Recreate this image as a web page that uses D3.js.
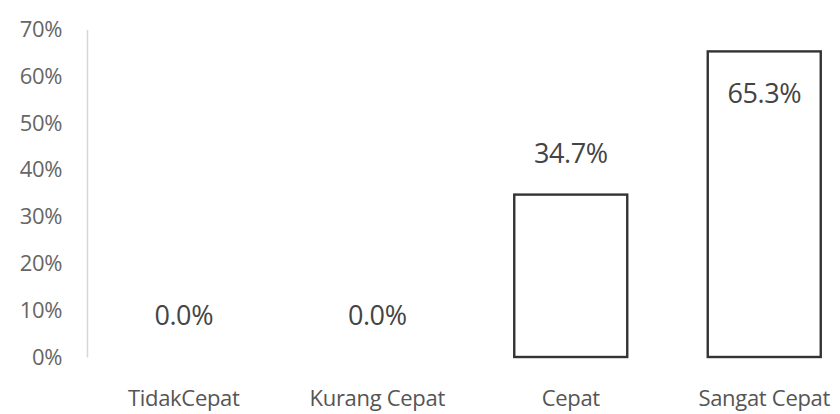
<!DOCTYPE html>
<html><head><meta charset="utf-8">
<script src="https://cdn.jsdelivr.net/npm/d3@7"></script>
<style>body{margin:0;background:#fff}svg{display:block}</style>
</head><body><svg id="c" width="840" height="414"></svg>
<script>
const categories = ["TidakCepat", "Kurang Cepat", "Cepat", "Sangat Cepat"];
const values = [0.0, 0.0, 34.7, 65.3];
const yTicks = [0, 10, 20, 30, 40, 50, 60, 70];

const svg = d3.select("#c");
const font = "'Open Sans', 'Noto Sans', sans-serif";
const x = d3.scaleBand().domain(categories).range([87, 861]).paddingInner(0.416).paddingOuter(0.208);
const y = d3.scaleLinear().domain([0, 70]).range([357, 29.4]);

// y axis
const ya = svg.append("g").attr("transform", "translate(87,0)")
  .call(d3.axisLeft(y).tickValues(yTicks).tickFormat(d => d + "%").tickSize(0).tickPadding(25));
ya.select(".domain").attr("stroke", "#d6d6d6").attr("stroke-width", 1.5);
ya.selectAll("text").attr("font-family", font).attr("font-size", 22).attr("fill", "#666")
  .attr("letter-spacing", "-0.4px");

// bars
svg.append("g").selectAll("rect").data(values).join("rect")
  .attr("x", (d, i) => x(categories[i]))
  .attr("y", d => y(d))
  .attr("width", x.bandwidth())
  .attr("height", d => y(0) - y(d))
  .attr("fill", "#fff")
  .attr("stroke", d => d > 0 ? "#333" : "none")
  .attr("stroke-width", 2.4);

// value labels (outside end, moved inside when no room above)
svg.append("g").selectAll("text").data(values).join("text")
  .attr("x", (d, i) => x(categories[i]) + x.bandwidth() / 2)
  .attr("y", d => y(d) - 32 < 50 ? y(d) + 52 : y(d) - 32)
  .attr("text-anchor", "middle")
  .attr("font-family", font).attr("font-size", 27).attr("fill", "#444")
  .attr("letter-spacing", "-0.4px")
  .text(d => d.toFixed(1) + "%");

// category labels
svg.append("g").selectAll("text").data(categories).join("text")
  .attr("x", d => x(d) + x.bandwidth() / 2)
  .attr("y", 406)
  .attr("text-anchor", "middle")
  .attr("font-family", font).attr("font-size", 22).attr("fill", "#555")
  .attr("letter-spacing", "-0.3px")
  .text(d => d);
</script></body></html>
